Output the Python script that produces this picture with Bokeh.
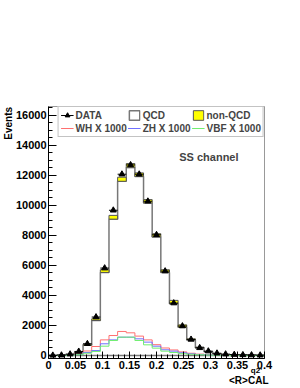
import math
from bokeh.plotting import figure
from bokeh.models import (ColumnDataSource, Range1d, FixedTicker, SingleIntervalTicker,
                          Legend, LegendItem, Label, LinearAxis)
from bokeh.embed import file_html
from bokeh.resources import INLINE

# ---- data ----
x_min = 0.0
bin_width = 0.016
n_bins = 25
data_counts = [10, 20, 90, 270, 780, 2560, 5820, 9670, 12070, 12690, 12070, 10270, 8040,
               5620, 3490, 1960, 1070, 510, 290, 150, 90, 60, 40, 30, 20]
qcd_counts = [8, 25, 60, 190, 690, 2330, 5530, 9080, 11600, 12510, 11920, 10160, 7890,
              5530, 3450, 1885, 1040, 520, 250, 100, 55, 37, 28, 19, 9]
nonqcd_counts = [2, 5, 10, 30, 60, 110, 180, 250, 270, 270, 240, 220, 220,
                 180, 220, 155, 70, 40, 20, 10, 5, 3, 2, 1, 1]
wh_x1000 = [0, 5, 20, 100, 300, 600, 1040, 1330, 1600, 1510, 1290, 1040, 720,
            500, 370, 240, 150, 90, 60, 30, 20, 10, 5, 5, 0]
zh_x1000 = [0, 5, 15, 60, 200, 330, 780, 1040, 1220, 1220, 1110, 890, 620,
            380, 290, 180, 110, 70, 40, 20, 10, 5, 5, 0, 0]
vbf_x1000 = [0, 5, 15, 50, 150, 270, 620, 1000, 1220, 1220, 1000, 710, 490,
             290, 200, 120, 80, 50, 30, 15, 10, 5, 5, 0, 0]

xtick_vals = [0, 0.05, 0.1, 0.15, 0.2, 0.25, 0.3, 0.35, 0.4]
xtick_labels = ["0", "0.05", "0.1", "0.15", "0.2", "0.25", "0.3", "0.35", "0.4"]
legend_labels = ["DATA", "QCD", "non-QCD", "WH X 1000", "ZH X 1000", "VBF X 1000"]
channel_text = "SS channel"
y_title = "Events"
x_title_main = "<R>"
x_title_sup = "q2'"
x_title_sub = "CAL"

FONT = "Liberation Sans"

edges = [x_min + i * bin_width for i in range(n_bins + 1)]
lo = edges[:-1]
hi = edges[1:]
mid = [(a + b) / 2 for a, b in zip(lo, hi)]
total = [q + n for q, n in zip(qcd_counts, nonqcd_counts)]


def step_xy(vals):
    return [edges[0]] + edges, [0] + list(vals) + [0]


def outline_polygon(vals):
    xs, ys = [edges[0]], [0]
    for a, b, v in zip(lo, hi, vals):
        xs += [a, b]
        ys += [v, v]
    xs.append(edges[-1])
    ys.append(0)
    return xs, ys


p = figure(width=300, height=388, output_backend="svg", toolbar_location=None,
           x_range=Range1d(0, 0.4), y_range=Range1d(-200, 16580),
           min_border_left=42, min_border_right=36, min_border_top=106, min_border_bottom=30)
p.background_fill_color = "white"
p.border_fill_color = "white"
p.outline_line_color = "#999999"
p.outline_line_width = 1
p.xgrid.visible = False
p.ygrid.visible = False

# QCD (white fill, grey outline)
px_, py_ = outline_polygon(qcd_counts)
qcd_r = p.patch(px_, py_, fill_color="white", line_color="#777777", line_width=1.5)

# non-QCD stacked on top (yellow)
nsrc = ColumnDataSource(dict(left=lo, right=hi, top=total, bottom=qcd_counts))
non_r = p.quad(left="left", right="right", top="top", bottom="bottom", source=nsrc,
               fill_color="#ffff00", line_color="#555555", line_width=1)

# signals x1000
sig_r = []
for vals, col in [(wh_x1000, "#ff7070"), (zh_x1000, "#7070ff"), (vbf_x1000, "#70ee70")]:
    sx, sy = step_xy(vals)
    sig_r.append(p.step(sx, sy, mode="after", line_color=col, line_width=1))

# data
err = [math.sqrt(v) for v in data_counts]
dsrc = ColumnDataSource(dict(x=mid, y=data_counts, lo=lo, hi=hi,
                             ylo=[v - e for v, e in zip(data_counts, err)],
                             yhi=[v + e for v, e in zip(data_counts, err)]))
dh = p.segment(x0="lo", x1="hi", y0="y", y1="y", source=dsrc, line_color="black", line_width=1)
dv = p.segment(x0="x", x1="x", y0="ylo", y1="yhi", source=dsrc, line_color="black", line_width=1)
dm = p.scatter(x="x", y="y", source=dsrc, marker="triangle", size=6,
               fill_color="black", line_color="black")

# axes
p.xaxis.ticker = FixedTicker(ticks=xtick_vals, minor_ticks=[i / 100 for i in range(41)])
p.xaxis.major_label_overrides = dict(zip(xtick_vals, xtick_labels))
p.yaxis.ticker = SingleIntervalTicker(interval=2000, num_minor_ticks=4)
for ax in (p.xaxis, p.yaxis):
    ax.axis_line_color = "black"
    ax.major_tick_out = 0
    ax.minor_tick_out = 0
    ax.major_tick_line_color = "black"
    ax.minor_tick_line_color = "black"
    ax.major_label_text_font = FONT
    ax.major_label_text_font_style = "bold"
    ax.major_label_text_font_size = "11px"
    ax.major_label_text_color = "black"
p.xaxis.major_tick_in = 7
p.xaxis.minor_tick_in = 4
p.yaxis.major_tick_in = 8
p.yaxis.minor_tick_in = 4
p.xaxis.major_label_standoff = 2
p.yaxis.major_label_standoff = 2


def text_axis(ticks, labels, size, standoff, orientation="horizontal"):
    ax = LinearAxis(ticker=FixedTicker(ticks=ticks, minor_ticks=[]),
                    major_label_overrides=dict(zip(ticks, labels)),
                    axis_line_color=None, major_tick_line_color=None,
                    minor_tick_line_color=None, major_tick_in=0, major_tick_out=0,
                    minor_tick_in=0, minor_tick_out=0,
                    major_label_standoff=standoff,
                    major_label_orientation=orientation)
    ax.major_label_text_font = FONT
    ax.major_label_text_font_style = "bold"
    ax.major_label_text_font_size = size
    ax.major_label_text_color = "black"
    return ax


# y title (rotated, near top of axis)
p.add_layout(text_axis([15460], [y_title], "10px", -2, "parallel"), "left")
# x title: superscript row, then main row with subscript
p.add_layout(text_axis([0.3851], [x_title_sup], "8px", -6), "below")
p.add_layout(text_axis([0.3518, 0.3885], [x_title_main, x_title_sub], "10px", -3), "below")

# legend (Bokeh fills columns first)
legend = Legend(items=[
    LegendItem(label=legend_labels[0], renderers=[dh, dm]),
    LegendItem(label=legend_labels[3], renderers=[sig_r[0]]),
    LegendItem(label=legend_labels[1], renderers=[qcd_r]),
    LegendItem(label=legend_labels[4], renderers=[sig_r[1]]),
    LegendItem(label=legend_labels[2], renderers=[non_r]),
    LegendItem(label=legend_labels[5], renderers=[sig_r[2]]),
], ncols=3, location="top_right")
legend.margin = 0
legend.padding = 2
legend.spacing = 1
legend.glyph_width = 13
legend.glyph_height = 12
legend.label_height = 12
legend.label_standoff = 2
legend.label_text_font = FONT
legend.label_text_font_style = "bold"
legend.label_text_font_size = "10px"
legend.label_text_baseline = "middle"
legend.border_line_color = "#888888"
legend.border_line_width = 1
legend.background_fill_color = "white"
legend.background_fill_alpha = 1
p.add_layout(legend)

# channel text inside the frame
p.add_layout(Label(x=0.297, y=13250, text=channel_text, text_align="center",
                   text_baseline="middle", text_font=FONT, text_font_style="bold",
                   text_font_size="11px"))

open("out.html", "w").write(file_html(p, INLINE))
